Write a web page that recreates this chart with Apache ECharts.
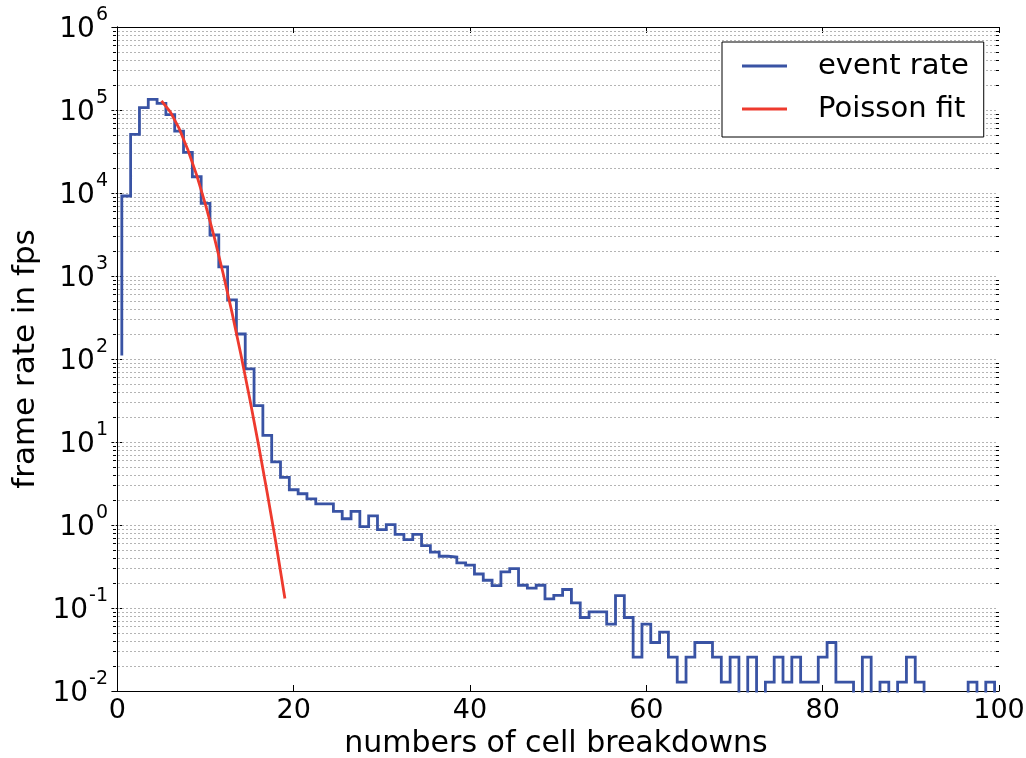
<!DOCTYPE html>
<html>
<head>
<meta charset="utf-8">
<script src="https://cdn.jsdelivr.net/npm/echarts@6/dist/echarts.min.js"></script>
<style>
html,body{margin:0;padding:0;background:#fff;}
#chart{width:1026px;height:758px;}
</style>
</head>
<body>
<div id="chart"></div>
<script>
// ---- data ----
// event rate per number of cell breakdowns, bins 0..100 (0 = no events in that bin)
const eventRate = [
  110, 9200, 50800, 107000, 134000, 120000, 88000, 55600, 30900, 15700,
  7500, 3120, 1290, 515, 200, 76, 27.5, 12.0, 5.75, 3.75,
  2.66, 2.38, 2.06, 1.80, 1.80, 1.46, 1.19, 1.46, 0.955, 1.29,
  0.88, 1.01, 0.77, 0.667, 0.77, 0.564, 0.47, 0.42, 0.41, 0.35,
  0.328, 0.257, 0.216, 0.186, 0.273, 0.298, 0.188, 0.174, 0.188, 0.129,
  0.142, 0.167, 0.1155, 0.0768, 0.0896, 0.0896, 0.064, 0.141, 0.0768, 0.0256,
  0.064, 0.0384, 0.0512, 0.0256, 0.0128, 0.0256, 0.0384, 0.0384, 0.0256, 0.0128,
  0.0256, 0, 0.0256, 0, 0.0128, 0.0256, 0.0128, 0.0256, 0.0128, 0.0128,
  0.0256, 0.0384, 0.0128, 0.0128, 0, 0.0256, 0, 0.0128, 0, 0.0128,
  0.0256, 0.0128, 0, 0, 0, 0, 0, 0.0128, 0, 0.0128,
  0
];
// Poisson fit curve
const fitX = [5, 6, 7, 8, 9, 10, 11, 12, 13, 14, 15, 16, 17, 18, 19];
const fitY = [129000, 95000, 60000, 33000, 16300, 7200, 2900, 1065, 362, 114, 33.7, 9.3, 2.42, 0.59, 0.13];

const xTicks = [0, 20, 40, 60, 80, 100];
const majorDecades = [-1, 0, 1, 2, 3, 4, 5];
const minorDecades = [-2, -1, 0, 1, 2, 3, 4, 5];
const minorMultipliers = [2, 3, 4, 5, 6, 7, 8, 9];

// ---- build series data ----
const ZERO_FLOOR = 1e-4; // empty bins fall below the axis floor
const eventData = eventRate.map((v, k) => [k + 0.5, v > 0 ? v : ZERO_FLOOR]);
const fitData = fitX.map((x, i) => [x, fitY[i]]);
const gridData = [];
majorDecades.forEach(d => gridData.push([0, Math.pow(10, d), 0]));
minorDecades.forEach(d => minorMultipliers.forEach(m => gridData.push([0, m * Math.pow(10, d), 1])));

const FONT = 'DejaVu Sans';
const BLUE = '#3953a4';
const RED = '#ee3a2e';

function renderGrid(params, api) {
  const cs = params.coordSys;
  const v = api.value(1);
  const isMinor = api.value(2) === 1;
  const y = Math.round(api.coord([0, v])[1]) + 0.5;
  const children = [{
    type: 'line', silent: true,
    shape: {x1: cs.x + 1, y1: y, x2: cs.x + cs.width - 1, y2: y},
    style: {stroke: '#b4b4b4', lineWidth: 1, lineDash: [2, 2]}
  }];
  if (isMinor) {
    children.push({type: 'line', silent: true,
      shape: {x1: cs.x, y1: y, x2: cs.x + 3, y2: y}, style: {stroke: '#000', lineWidth: 1}});
    children.push({type: 'line', silent: true,
      shape: {x1: cs.x + cs.width - 3, y1: y, x2: cs.x + cs.width, y2: y}, style: {stroke: '#000', lineWidth: 1}});
  }
  return {type: 'group', children};
}

const chart = echarts.init(document.getElementById('chart'), null, {renderer: 'canvas'});
const axisLineStyle = {show: true, lineStyle: {color: '#000', width: 1}};
chart.setOption({
  animation: false,
  backgroundColor: '#fff',
  grid: {left: 113, top: 27, right: 27, bottom: 67, outerBoundsMode: 'none', containLabel: false},
  legend: {
    left: 722, top: 42, orient: 'vertical',
    data: ['event rate', 'Poisson fit'],
    icon: 'rect', itemWidth: 45, itemHeight: 3, itemGap: 9,
    padding: [7, 15, 11, 20],
    borderColor: '#000', borderWidth: 1, borderRadius: 0,
    backgroundColor: '#fff',
    selectedMode: false,
    textStyle: {fontFamily: FONT, fontSize: 29, color: '#000', lineHeight: 34, padding: [0, 0, 0, 26]}
  },
  xAxis: [{
    type: 'value', min: -0.5, max: 100, position: 'bottom',
    axisLine: axisLineStyle,
    axisTick: {show: true, inside: true, length: 6, customValues: xTicks, lineStyle: {color: '#000'}},
    axisLabel: {customValues: xTicks, fontFamily: FONT, fontSize: 27, color: '#000', margin: 6,
      showMinLabel: true, showMaxLabel: true},
    splitLine: {show: false},
    name: 'numbers of cell breakdowns', nameLocation: 'middle', nameGap: 35,
    nameTextStyle: {fontFamily: FONT, fontSize: 30, color: '#000'}
  }, {
    type: 'value', min: -0.5, max: 100, position: 'top',
    axisLine: axisLineStyle,
    axisTick: {show: true, inside: true, length: 6, customValues: xTicks, lineStyle: {color: '#000'}},
    axisLabel: {show: false},
    splitLine: {show: false}
  }],
  yAxis: [{
    type: 'log', logBase: 10, min: 0.01, max: 1e6, splitNumber: 8, position: 'left',
    axisLine: axisLineStyle,
    axisTick: {show: true, inside: true, length: 6, lineStyle: {color: '#000'}},
    axisLabel: {
      showMinLabel: true, showMaxLabel: true, margin: 5, color: '#000',
      formatter: function (v) {
        const e = Math.round(Math.log10(v));
        return '{b|10}{s|' + e + '}';
      },
      rich: {
        b: {fontFamily: FONT, fontSize: 28, lineHeight: 28, color: '#000', verticalAlign: 'middle', padding: [6, 0, 0, 0]},
        s: {fontFamily: FONT, fontSize: 19, lineHeight: 19, color: '#000', verticalAlign: 'middle', padding: [0, 0, 24, 1]}
      }
    },
    splitLine: {show: false},
    name: 'frame rate in fps', nameLocation: 'middle', nameGap: 57,
    nameTextStyle: {fontFamily: FONT, fontSize: 31, color: '#000'}
  }, {
    type: 'log', logBase: 10, min: 0.01, max: 1e6, splitNumber: 8, position: 'right',
    axisLine: axisLineStyle,
    axisTick: {show: true, inside: true, length: 6, lineStyle: {color: '#000'}},
    axisLabel: {show: false},
    splitLine: {show: false}
  }],
  series: [{
    name: 'grid', type: 'custom', xAxisIndex: 0, yAxisIndex: 0, z: 1, silent: true,
    renderItem: renderGrid, data: gridData, encode: {x: 0, y: 1}
  }, {
    name: 'event rate', type: 'line', xAxisIndex: 0, yAxisIndex: 0, z: 3,
    step: 'start', data: eventData, symbol: 'none', showSymbol: false, clip: true,
    color: BLUE, itemStyle: {color: BLUE},
    lineStyle: {color: BLUE, width: 2.8, join: 'miter'}
  }, {
    name: 'Poisson fit', type: 'line', xAxisIndex: 0, yAxisIndex: 0, z: 4,
    data: fitData, symbol: 'none', showSymbol: false, clip: true,
    color: RED, itemStyle: {color: RED},
    lineStyle: {color: RED, width: 2.8}
  }]
});
</script>
</body>
</html>
